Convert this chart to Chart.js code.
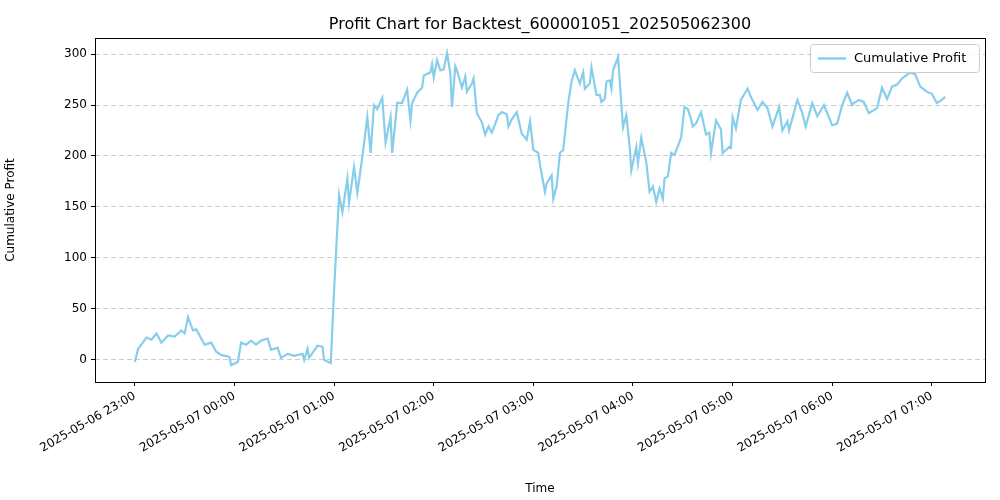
<!DOCTYPE html>
<html>
<head>
<meta charset="utf-8">
<script src="https://cdn.jsdelivr.net/npm/chart.js@4"></script>
<style>
  body { margin: 0; background: #fff; }
  #wrap { width: 1000px; height: 500px; }
</style>
</head>
<body>
<div id="wrap"><canvas id="chart" width="1000" height="500"></canvas></div>
<script>
// minutes after 2025-05-06 23:00
const minutes = [0,2,7,10,13,16,20,24,28,30,32,35,37,42,46,49,52,57,58,62,64,67,70,73,76,80,82,86,88,92,96,101,102,104,105,110,113,114,118,
  120,123,125,128,129,132,134,137,140,142,144,146,149,151,154,155,158,161,164,166,167,170,173,174,178,179,180,182,184,186,188,190,191,193,194,197,199,200,203,204,
  206,209,211,213,215,219,221,224,225,227,230,233,236,238,240,243,244,247,248,251,252,254,256,258,261,263,265,268,270,271,274,275,278,280,281,283,284,286,287,288,291,
  294,296,298,299,302,303,305,308,310,312,314,316,318,319,321,323,325,329,331,333,335,336,338,341,344,346,347,350,353,354,358,359,360,362,365,369,371,375,378,381,384,
  388,390,393,394,399,402,404,408,411,415,420,423,426,429,432,433,436,439,442,447,450,453,456,459,462,467,470,473,477,480,483,486,488];
const profit = [-2,11,22,20,26,17,24,23,29,26,42,29,30,15,17,8,5,3,-5,-2,17,15,19,15,19,21,10,12,2,6,4,6,0,11,2,14,13,0,-3,
  69,162,145,178,154,189,164,199,238,203,250,246,257,213,238,203,252,252,265,235,252,262,267,279,282,290,277,294,284,285,301,281,248,288,284,267,278,263,271,276,
  242,233,221,229,223,240,243,241,229,236,243,222,216,234,206,203,191,165,173,181,158,170,203,206,252,273,284,271,282,266,271,287,260,260,253,256,273,274,266,284,297,
  228,240,209,186,209,193,218,194,165,170,155,168,158,178,180,203,201,218,248,246,236,229,232,243,221,223,203,235,226,203,209,208,238,227,255,266,258,245,253,247,229,
  248,225,234,225,255,242,229,252,239,250,230,232,250,262,250,252,255,253,242,247,267,256,268,270,276,282,280,268,263,261,252,255,258];
const tickMinutes = [0, 60, 120, 180, 240, 300, 360, 420, 480];
const tickLabels = ['2025-05-06 23:00','2025-05-07 00:00','2025-05-07 01:00','2025-05-07 02:00',
  '2025-05-07 03:00','2025-05-07 04:00','2025-05-07 05:00','2025-05-07 06:00','2025-05-07 07:00'];
const yTicks = [0, 50, 100, 150, 200, 250, 300];

const FONT = 'DejaVu Sans';
const LINE = '#87ceeb';

// title, frame and legend drawn matplotlib-style
const decor = {
  id: 'decor',
  afterDraw(chart) {
    const { ctx, chartArea: a } = chart;
    ctx.save();
    ctx.strokeStyle = '#000';
    ctx.lineWidth = 1;
    ctx.strokeRect(a.left + 0.5, a.top + 0.5, a.right - a.left, a.bottom - a.top);
    ctx.fillStyle = '#000';
    ctx.font = '16px "' + FONT + '"';
    ctx.textAlign = 'center';
    ctx.textBaseline = 'bottom';
    ctx.fillText('Profit Chart for Backtest_600001051_202505062300', (a.left + a.right) / 2, a.top - 5);
    // legend
    const w = 169, h = 28, x = a.right - 6 - w, y = a.top + 6;
    ctx.fillStyle = 'rgba(255,255,255,0.8)';
    ctx.strokeStyle = '#ccc';
    ctx.beginPath();
    ctx.roundRect(x + 0.5, y + 0.5, w, h, 3);
    ctx.fill();
    ctx.stroke();
    ctx.strokeStyle = LINE;
    ctx.lineWidth = 2.5;
    ctx.beginPath();
    ctx.moveTo(x + 8, y + h / 2 + 0.5);
    ctx.lineTo(x + 36, y + h / 2 + 0.5);
    ctx.stroke();
    ctx.fillStyle = '#000';
    ctx.font = '13px "' + FONT + '"';
    ctx.textAlign = 'left';
    ctx.textBaseline = 'middle';
    ctx.fillText('Cumulative Profit', x + 44, y + h / 2 + 1);
    ctx.restore();
  }
};

new Chart(document.getElementById('chart'), {
  type: 'line',
  data: {
    datasets: [{
      label: 'Cumulative Profit',
      data: minutes.map((m, i) => ({ x: m, y: profit[i] })),
      borderColor: LINE,
      borderWidth: 2.2,
      pointRadius: 0,
      tension: 0,
      fill: false
    }]
  },
  options: {
    responsive: false,
    animation: false,
    layout: { padding: { top: 38, right: 15, left: 0, bottom: 0 } },
    plugins: { legend: { display: false }, title: { display: false }, tooltip: { enabled: false } },
    scales: {
      x: {
        type: 'linear',
        min: -24, max: 512,
        afterBuildTicks(s) { s.ticks = tickMinutes.map(v => ({ value: v })); },
        afterFit(s) { s.height = 118; },
        ticks: {
          autoSkip: false, minRotation: 30, maxRotation: 30, color: '#000',
          font: { family: FONT, size: 12 },
          callback: v => tickLabels[tickMinutes.indexOf(v)]
        },
        grid: { drawOnChartArea: false, drawTicks: true, tickLength: 4, color: '#000' },
        border: { display: false },
        title: { display: true, text: 'Time', color: '#000', font: { family: FONT, size: 12 }, padding: { top: 0 } }
      },
      y: {
        min: -21.6, max: 315.7,
        afterBuildTicks(s) { s.ticks = yTicks.map(v => ({ value: v })); },
        afterFit(s) { s.width = 95; },
        ticks: { color: '#000', font: { family: FONT, size: 12 }, padding: 4 },
        grid: { color: '#cccccc', borderDash: [5, 3], drawTicks: true, tickLength: 4, tickColor: '#000' },
        border: { display: false, dash: [5, 3] },
        title: { display: true, text: 'Cumulative Profit', color: '#000', font: { family: FONT, size: 12 } }
      }
    }
  },
  plugins: [decor]
});
</script>
</body>
</html>
